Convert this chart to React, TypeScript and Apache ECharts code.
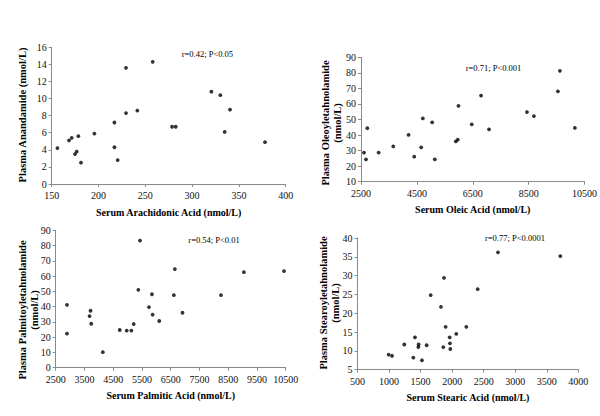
import React, { useEffect, useRef } from "react";
import * as echarts from "echarts";

// Panel 1: Arachidonic acid vs Anandamide
const arachidonicX = [156.1, 168.5, 171.4, 174.9, 176.7, 178.5, 181.3, 195.6, 217.0, 217.0, 220.5, 229.4, 229.4, 241.5, 257.9, 278.6, 282.5, 320.6, 330.2, 334.8, 340.5, 377.9];
const anandamideY = [4.2, 5.1, 5.4, 3.5, 3.8, 5.6, 2.5, 5.9, 7.2, 4.3, 2.8, 13.6, 8.3, 8.6, 14.3, 6.7, 6.7, 10.8, 10.4, 6.1, 8.7, 4.9];

// Panel 2: Oleic acid vs Oleoylethanolamide
const oleicX = [2607, 2679, 2726, 3131, 3655, 4202, 4405, 4655, 4714, 5048, 5143, 5893, 5964, 5988, 6464, 6798, 7083, 8440, 8690, 9548, 9619, 10155];
const oleoylY = [28.7, 24.4, 44.4, 28.7, 32.7, 40.1, 26.1, 32.1, 50.7, 48.2, 24.4, 35.9, 37.0, 58.8, 46.9, 65.4, 43.7, 54.8, 52.2, 68.1, 81.3, 44.6];

// Panel 3: Palmitic acid vs Palmitoylethanolamide
const palmiticX = [2892, 2892, 3678, 3712, 3735, 4139, 4728, 4970, 5132, 5213, 5374, 5432, 5744, 5848, 5871, 6102, 6610, 6644, 6910, 8249, 9045, 10440];
const palmitoylY = [41.2, 22.3, 33.8, 37.3, 28.8, 10.2, 24.7, 24.3, 24.3, 28.6, 51.0, 83.3, 39.7, 48.1, 34.7, 30.6, 47.5, 64.6, 36.0, 47.5, 62.6, 63.3];

// Panel 4: Stearic acid vs Stearoylethanolamide
const stearicX = [994, 1047, 1242, 1385, 1411, 1464, 1469, 1522, 1596, 1660, 1823, 1860, 1871, 1897, 1961, 1966, 1971, 2066, 2225, 2405, 2727, 3715];
const stearoylY = [9.0, 8.7, 11.7, 8.2, 13.6, 11.0, 11.7, 7.5, 11.5, 24.8, 21.7, 11.0, 29.4, 16.4, 13.6, 12.0, 10.5, 14.5, 16.4, 26.4, 36.2, 35.2];

const xTitles = [
  "Serum Arachidonic Acid (nmol/L)",
  "Serum Oleic Acid (nmol/L)",
  "Serum Palmitic Acid (nmol/L)",
  "Serum Stearic Acid (nmol/L)",
];
const yTitles = [
  "Plasma Anandamide (nmol/L)",
  "Plasma Oleoyletahnolamide\n(nmol/L)",
  "Plasma Palmitoyletahnolamide\n(nmol/L)",
  "Plasma Stearoyletahnolamide\n(nmol/L)",
];
const stats = ["r=0.42; P<0.05", "r=0.71; P<0.001", "r=0.54; P<0.01", "r=0.77; P<0.0001"];

const xRanges = [
  [150, 400, 50],
  [2500, 10500, 2000],
  [2500, 10500, 1000],
  [500, 4000, 500],
];
const yRanges = [
  [0, 16, 2],
  [10, 90, 10],
  [0, 90, 10],
  [5, 40, 5],
];

const FONT = "Liberation Serif, Times New Roman, serif";

export default function App() {
  const ref = useRef<HTMLDivElement>(null);
  useEffect(() => {
    if (!ref.current) return;
    const chart = echarts.init(ref.current, undefined, { renderer: "svg" });
    const grids = [
      { left: 51.7, top: 47.3, width: 234, height: 136.7 },
      { left: 361, top: 57.3, width: 224.7, height: 124.4 },
      { left: 55.7, top: 230.3, width: 230, height: 137.4 },
      { left: 357.5, top: 238, width: 220.8, height: 131.7 },
    ];
    const xs = [arachidonicX, oleicX, palmiticX, stearicX];
    const ys = [anandamideY, oleoylY, palmitoylY, stearoylY];
    const yTitlePos = [
      [22, 115],
      [331, 123],
      [28, 310],
      [329, 303],
    ];
    const statPos = [
      [181.7, 54],
      [465.7, 68.3],
      [188.3, 240],
      [485, 238.3],
    ];
    const axisLine = { lineStyle: { color: "#8a8a8a", width: 1 } };
    const option: any = {
      animation: false,
      backgroundColor: "#ffffff",
      grid: grids.map((g) => ({ ...g, containLabel: false })),
      xAxis: xRanges.map((r, i) => ({
        type: "value",
        gridIndex: i,
        min: r[0],
        max: r[1],
        interval: r[2],
        splitLine: { show: false },
        axisLine: { show: true, onZero: false, ...axisLine },
        axisTick: { show: true, length: 3, inside: false, lineStyle: { color: "#8a8a8a" } },
        axisLabel: {
          fontFamily: FONT,
          fontSize: 10,
          color: "#111",
          margin: 6.5,
          formatter: (v: number) => String(v),
        },
        name: xTitles[i],
        nameLocation: "middle",
        nameGap: 23,
        nameTextStyle: { fontFamily: FONT, fontSize: 10, fontWeight: "bold", color: "#000" },
      })),
      yAxis: yRanges.map((r, i) => ({
        type: "value",
        gridIndex: i,
        min: r[0],
        max: r[1],
        interval: r[2],
        splitLine: { show: false },
        axisLine: { show: true, onZero: false, ...axisLine },
        axisTick: { show: true, length: 3, inside: false, lineStyle: { color: "#8a8a8a" } },
        axisLabel: {
          fontFamily: FONT,
          fontSize: 10,
          color: "#111",
          margin: 5,
          formatter: (v: number) => String(v),
        },
      })),
      series: xs.map((xv, i) => ({
        type: "scatter",
        xAxisIndex: i,
        yAxisIndex: i,
        symbol: "circle",
        symbolSize: 3.8,
        itemStyle: { color: "#000" },
        data: xv.map((x, j) => [x, ys[i][j]]),
      })),
      graphic: [
        ...yTitles.map((t, i) => ({
          type: "text",
          x: yTitlePos[i][0],
          y: yTitlePos[i][1],
          rotation: Math.PI / 2,
          style: {
            text: t,
            fontFamily: FONT,
            fontSize: 10.5,
            fontWeight: "bold",
            fill: "#000",
            textAlign: "center",
            textVerticalAlign: "middle",
            lineHeight: 12,
          },
        })),
        ...stats.map((t, i) => ({
          type: "text",
          x: statPos[i][0],
          y: statPos[i][1],
          style: {
            text: t,
            fontFamily: FONT,
            fontSize: 8.5,
            fill: "#000",
            textAlign: "left",
            textVerticalAlign: "middle",
          },
        })),
      ],
    };
    chart.setOption(option);
    return () => chart.dispose();
  }, []);
  return (
    <div
      ref={ref}
      style={{ position: "absolute", left: 0, top: 0, width: 600, height: 416, background: "#fff" }}
    />
  );
}
